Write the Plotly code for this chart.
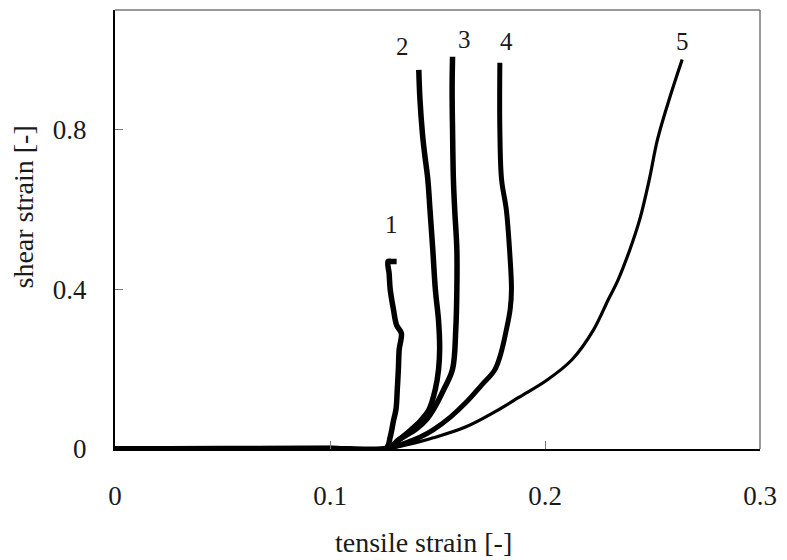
import plotly.graph_objects as go

# ---- data ----
c1_x = [0, 0.05, 0.1, 0.126, 0.128, 0.1295, 0.1307, 0.1313, 0.1318, 0.1322, 0.1332, 0.131, 0.1295, 0.128, 0.1275, 0.127, 0.1285, 0.131]
c1_y = [0, 0.001, 0.001, 0.002, 0.03, 0.07, 0.1, 0.15, 0.2, 0.25, 0.29, 0.31, 0.35, 0.4, 0.44, 0.47, 0.47, 0.47]

c2_x = [0, 0.1, 0.127, 0.132, 0.137, 0.142, 0.146, 0.149, 0.1505, 0.151, 0.1505, 0.149, 0.1478, 0.1465, 0.1455, 0.144, 0.143, 0.1418, 0.1413]
c2_y = [0, 0.001, 0.002, 0.023, 0.045, 0.07, 0.098, 0.15, 0.2, 0.25, 0.32, 0.4, 0.5, 0.6, 0.675, 0.74, 0.79, 0.88, 0.95]

c3_x = [0, 0.1, 0.127, 0.132, 0.14, 0.145, 0.148, 0.153, 0.157, 0.1585, 0.159, 0.159, 0.158, 0.1574, 0.157, 0.1568, 0.157]
c3_y = [0, 0.001, 0.002, 0.023, 0.05, 0.075, 0.098, 0.15, 0.2, 0.3, 0.4, 0.5, 0.6, 0.675, 0.8, 0.9, 0.983]

c4_x = [0, 0.1, 0.127, 0.135, 0.142, 0.148, 0.156, 0.163, 0.1705, 0.1766, 0.1795, 0.182, 0.1838, 0.1844, 0.1835, 0.182, 0.1798, 0.179, 0.179]
c4_y = [0, 0.001, 0.002, 0.015, 0.03, 0.048, 0.08, 0.115, 0.16, 0.198, 0.24, 0.298, 0.35, 0.4, 0.5, 0.6, 0.675, 0.8, 0.968]

c5_x = [0, 0.1, 0.127, 0.137, 0.148, 0.163, 0.1766, 0.188, 0.201, 0.2124, 0.2225, 0.2294, 0.234, 0.2395, 0.244, 0.2485, 0.2523, 0.258, 0.2638]
c5_y = [0, 0.001, 0.002, 0.012, 0.028, 0.055, 0.093, 0.13, 0.173, 0.223, 0.298, 0.374, 0.424, 0.5, 0.574, 0.675, 0.775, 0.88, 0.976]

labels = ["1", "2", "3", "4", "5"]
label_x = [0.1284, 0.1335, 0.1624, 0.1821, 0.2638]
label_y = [0.562, 1.008, 1.026, 1.021, 1.021]

x_ticks = [0, 0.1, 0.2, 0.3]
x_tick_text = ["0", "0.1", "0.2", "0.3"]
y_ticks = [0, 0.4, 0.8]
y_tick_text = ["0", "0.4", "0.8"]

x_title = "tensile strain [-]"
y_title = "shear strain [-]"

FONT = "Liberation Serif"
INK = "#1a1a1a"

fig = go.Figure()
curves = [(c1_x, c1_y, 5.5), (c2_x, c2_y, 5.5), (c3_x, c3_y, 5.5), (c4_x, c4_y, 5), (c5_x, c5_y, 3.2)]
for cx, cy, w in curves:
    fig.add_trace(go.Scatter(x=cx, y=cy, mode="lines",
                             line=dict(color="black", width=w, shape="spline", smoothing=1.0),
                             showlegend=False, hoverinfo="skip"))

for t, lx, ly in zip(labels, label_x, label_y):
    fig.add_annotation(x=lx, y=ly, xref="x", yref="y", text=t, showarrow=False,
                       font=dict(family=FONT, size=25, color=INK))

fig.add_annotation(x=0.479, y=-0.212, xref="paper", yref="paper", text=x_title, showarrow=False,
                   xanchor="center", yanchor="middle", font=dict(family=FONT, size=28, color=INK))
fig.add_annotation(x=-0.142, y=0.551, xref="paper", yref="paper", text=y_title, showarrow=False,
                   textangle=-90, xanchor="center", yanchor="middle",
                   font=dict(family=FONT, size=28, color=INK))

# top and right frame lines in grey
fig.add_shape(type="line", xref="paper", yref="paper", x0=0, x1=1, y0=1, y1=1,
              line=dict(color="#777777", width=1.5))
fig.add_shape(type="line", xref="paper", yref="paper", x0=1, x1=1, y0=0, y1=1,
              line=dict(color="#777777", width=1.5))

fig.update_xaxes(range=[0, 0.3], tickvals=x_ticks, ticktext=x_tick_text,
                 ticks="inside", ticklen=8, tickwidth=1, tickcolor="#777777",
                 showline=True, linecolor="black", linewidth=2, showgrid=False, zeroline=False,
                 ticklabelstandoff=22, ticklabeloverflow="allow",
                 tickfont=dict(family=FONT, size=27, color=INK))
fig.update_yaxes(range=[0, 1.1], tickvals=y_ticks, ticktext=y_tick_text,
                 ticks="inside", ticklen=8, tickwidth=1, tickcolor="#777777",
                 showline=True, linecolor="black", linewidth=2, showgrid=False, zeroline=False,
                 ticklabelstandoff=21,
                 tickfont=dict(family=FONT, size=27, color=INK))

fig.update_layout(width=787, height=560, margin=dict(l=115, r=18, t=10, b=111),
                  plot_bgcolor="white", paper_bgcolor="white")

fig.write_html("out.html")
